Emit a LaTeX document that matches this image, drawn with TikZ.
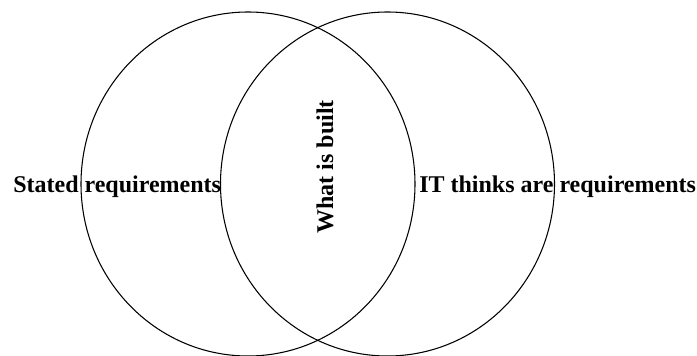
\documentclass[tikz,border=0pt]{standalone}
\usepackage{fontspec}
\setmainfont{Liberation Serif}
\usetikzlibrary{shapes.geometric}
\begin{document}
\begin{tikzpicture}[x=0.75pt,y=-0.75pt,
  setring/.style={draw=black, line width=0.8pt, ellipse, inner sep=0pt,
    minimum width=250.5pt, minimum height=258pt},
  lbl/.style={font=\bfseries\fontsize{18}{21}\selectfont, inner sep=0pt}]
\useasboundingbox (0,0) rectangle (697,356);
\node[setring] (L) at (248,184) {};
\node[setring] (R) at (387.5,184) {};
\node[lbl, anchor=base west] (s) at (13,193) {Stated requirements};
\node[lbl, anchor=base west] (it) at (419,193) {IT thinks are requirements};
\node[lbl, rotate=90, anchor=base] (w) at (333,167) {What is built};
\end{tikzpicture}
\end{document}
